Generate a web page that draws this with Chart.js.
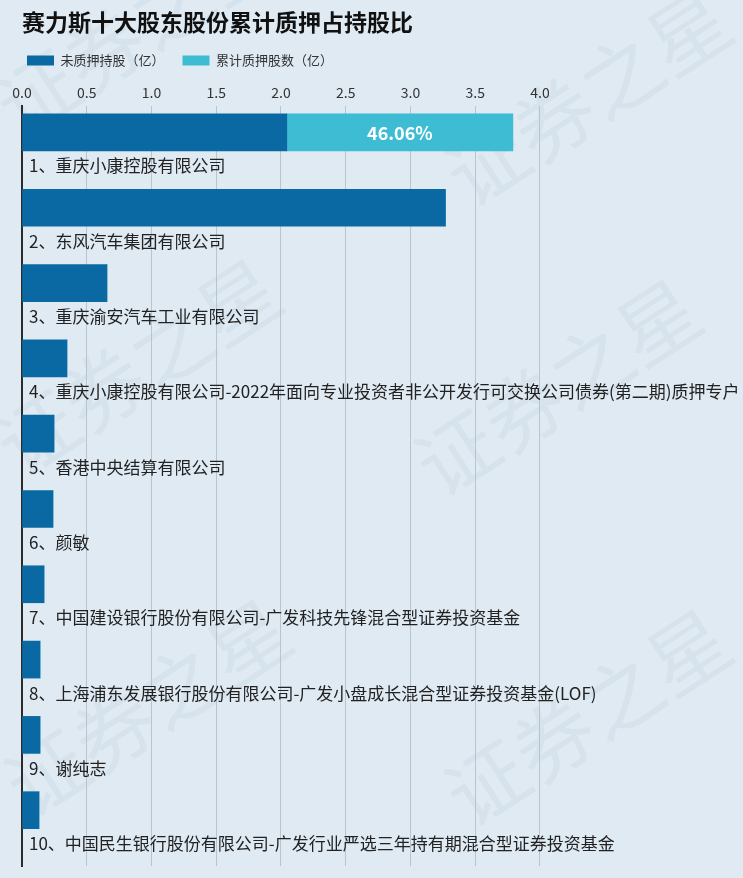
<!DOCTYPE html>
<html><head><meta charset="utf-8">
<script src="https://cdn.jsdelivr.net/npm/chart.js@4/dist/chart.umd.min.js"></script>
<style>html,body{margin:0;padding:0;background:#dfeaf3;}#wrap{width:743px;height:878px;}</style>
</head><body><div id="wrap"><canvas id="c" width="743" height="878"></canvas></div>
<script>
const chartTitle = '赛力斯十大股东股份累计质押占持股比';
const seriesNames = ['未质押持股（亿）', '累计质押股数（亿）'];
const categories = [
  '1、重庆小康控股有限公司',
  '2、东风汽车集团有限公司',
  '3、重庆渝安汽车工业有限公司',
  '4、重庆小康控股有限公司-2022年面向专业投资者非公开发行可交换公司债券(第二期)质押专户',
  '5、香港中央结算有限公司',
  '6、颜敏',
  '7、中国建设银行股份有限公司-广发科技先锋混合型证券投资基金',
  '8、上海浦东发展银行股份有限公司-广发小盘成长混合型证券投资基金(LOF)',
  '9、谢纯志',
  '10、中国民生银行股份有限公司-广发行业严选三年持有期混合型证券投资基金'
];
const unpledged = [2.045, 3.27, 0.656, 0.347, 0.247, 0.239, 0.170, 0.139, 0.139, 0.131];
const pledged   = [1.746, 0, 0, 0, 0, 0, 0, 0, 0, 0];
const pledgeRatioLabels = ['46.06%', '', '', '', '', '', '', '', '', ''];
const xTickStep = 0.5;
const xTickLast = 4.0;
const xMax = 5.568;
const watermark = '证券之星';

const DARK = '#0a69a2';
const LIGHT = '#3ebcd3';
const CJK = '"Noto Sans CJK SC", "Noto Sans", sans-serif';

const bgPlugin = {
  id: 'bg',
  beforeDraw(chart) {
    const ctx = chart.ctx;
    ctx.save();
    ctx.fillStyle = '#dfeaf3';
    ctx.fillRect(0, 0, chart.width, chart.height);
    ctx.font = '80px ' + CJK;
    ctx.fillStyle = 'rgba(150,165,180,0.10)';
    ctx.textBaseline = 'alphabetic';
    const origins = [[20,140],[20,480],[30,820],[470,210],[440,500],[470,830]];
    for (const [ox, oy] of origins) {
      ctx.save();
      ctx.translate(ox, oy);
      ctx.rotate(-33 * Math.PI / 180);
      ctx.fillText(watermark, 0, 0);
      ctx.restore();
    }
    ctx.fillStyle = '#111';
    ctx.font = 'bold 23px ' + CJK;
    ctx.textBaseline = 'middle';
    ctx.fillText(chartTitle, 22, 22);
    ctx.restore();
  }
};

const labelPlugin = {
  id: 'labels',
  afterDatasetsDraw(chart) {
    const ctx = chart.ctx;
    const y = chart.scales.y;
    ctx.save();
    ctx.textBaseline = 'middle';
    ctx.textAlign = 'left';
    ctx.fillStyle = '#222';
    ctx.font = '17px ' + CJK;
    categories.forEach((c, i) => {
      ctx.fillText(c, 29, y.getPixelForValue(i) + 33.5);
    });
    const meta = chart.getDatasetMeta(1);
    ctx.fillStyle = '#fff';
    ctx.font = 'bold 18px ' + CJK;
    ctx.textAlign = 'center';
    pledgeRatioLabels.forEach((t, i) => {
      if (!t) return;
      const el = meta.data[i];
      const p = el.getProps(['x', 'base', 'y'], true);
      ctx.fillText(t, (p.x + p.base) / 2, p.y + 1);
    });
    ctx.restore();
  }
};

new Chart(document.getElementById('c'), {
  type: 'bar',
  data: {
    datasets: [
      { label: seriesNames[0], data: unpledged.map((v, i) => ({ x: v, y: i })), backgroundColor: DARK, stack: 's', barThickness: 37, borderWidth: 0 },
      { label: seriesNames[1], data: pledged.map((v, i) => ({ x: v, y: i })), backgroundColor: LIGHT, stack: 's', barThickness: 37, borderWidth: 0 }
    ]
  },
  options: {
    indexAxis: 'y',
    responsive: false,
    animation: false,
    devicePixelRatio: 1,
    layout: { padding: { top: 36, left: 9, right: 0, bottom: 12 } },
    plugins: {
      title: { display: false },
      tooltip: { enabled: false },
      legend: {
        position: 'top',
        align: 'start',
        labels: { boxWidth: 27, boxHeight: 10, padding: 18, color: '#333', font: { family: CJK, size: 13 } }
      }
    },
    scales: {
      x: {
        type: 'linear',
        position: 'top',
        stacked: true,
        min: 0,
        max: xMax,
        afterBuildTicks(s) { s.ticks = s.ticks.filter(t => t.value <= xTickLast + 1e-6); },
        afterFit(s) { s.height = 29; },
        ticks: { stepSize: xTickStep, padding: 5, color: '#333', font: { family: CJK, size: 14 }, callback: v => Number(v).toFixed(1) },
        grid: { color: 'rgba(180,192,204,0.9)', lineWidth: 1, drawTicks: false },
        border: { display: false }
      },
      y: {
        type: 'linear',
        reverse: true,
        offset: false,
        min: -0.351,
        max: 9.741,
        afterFit(s) { s.width = 13; },
        ticks: { display: false },
        grid: { display: false, offset: false },
        border: { display: true, color: '#2b2b2b', width: 2 }
      }
    }
  },
  plugins: [bgPlugin, labelPlugin]
});
</script></body></html>
